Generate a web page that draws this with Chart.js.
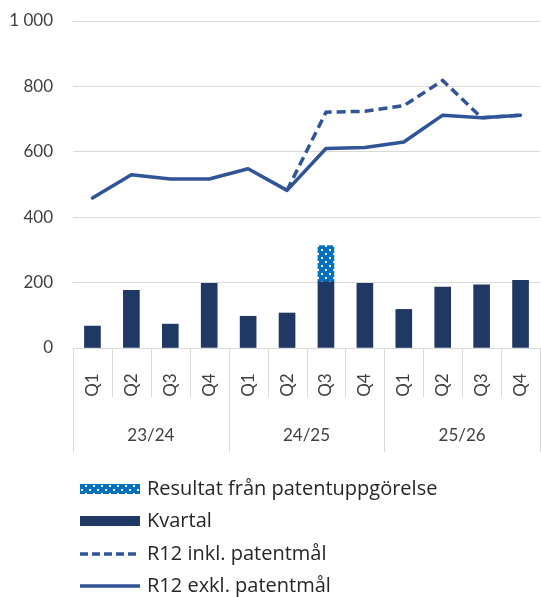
<!DOCTYPE html>
<html lang="sv">
<head>
<meta charset="UTF-8">
<title>Kvartal och R12</title>
<script src="https://cdn.jsdelivr.net/npm/chart.js@4/dist/chart.umd.min.js"></script>
<style>
  html, body { margin: 0; padding: 0; background: #fff; }
  #wrap { width: 541px; height: 597px; }
</style>
</head>
<body>
<div id="wrap"><canvas id="chart" width="541" height="597"></canvas></div>

<script>
// ── Data ────────────────────────────────────────────────
const quarters = ['Q1','Q2','Q3','Q4','Q1','Q2','Q3','Q4','Q1','Q2','Q3','Q4'];
const years    = ['23/24','24/25','25/26'];
const kvartal  = [67, 176, 73, 198, 97, 107, 202, 198, 118, 186, 193, 207];
const patent   = [null, null, null, null, null, null, 111, null, null, null, null, null];
const r12Inkl  = [null, null, null, null, null, 482, 721, 724, 741, 818, 704, 712];
const r12Exkl  = [459, 530, 517, 517, 548, 482, 610, 613, 630, 712, 704, 712];
const yTicks   = [0, 200, 400, 600, 800, 1000];

// ── Styles ──────────────────────────────────────────────
const navy = '#203864';
const lineBlue = '#2F5597';
const patBlue = '#0070C0';
const gridColor = '#D9D9D9';
const textColor = '#404040';
const font = 'Lato, "Open Sans", sans-serif';
const legendFont = '"Open Sans", Lato, sans-serif';

// prickigt mönster för patentstapeln
function dotPattern() {
  const c = document.createElement('canvas');
  c.width = 8; c.height = 8;
  const g = c.getContext('2d');
  g.fillStyle = patBlue;
  g.fillRect(0, 0, 8, 8);
  g.fillStyle = '#ffffff';
  g.fillRect(1, 1, 2, 2);
  g.fillRect(5, 5, 2, 2);
  return g.createPattern(c, 'repeat');
}
const pattern = dotPattern();

const fmt = v => String(v).replace(/\B(?=(\d{3})+(?!\d))/g, ' ');

// ── Kategoriaxel i två nivåer ───────────────────────────
const groupAxis = {
  id: 'groupAxis',
  afterDraw(chart) {
    const { ctx, chartArea: a, scales: { x } } = chart;
    const half = (x.getPixelForValue(1) - x.getPixelForValue(0)) / 2;
    ctx.save();
    ctx.strokeStyle = gridColor;
    ctx.lineWidth = 1;
    for (let i = 0; i <= quarters.length; i++) {
      const px = Math.round(x.getPixelForValue(i) - half) + 0.5;
      const long = i % 4 === 0;
      ctx.beginPath();
      ctx.moveTo(px, a.bottom);
      ctx.lineTo(px, a.bottom + (long ? 104 : 49));
      ctx.stroke();
    }
    ctx.fillStyle = textColor;
    ctx.font = '17px ' + font;
    ctx.textAlign = 'center';
    ctx.textBaseline = 'middle';
    quarters.forEach((q, i) => {
      ctx.save();
      ctx.translate(x.getPixelForValue(i), a.bottom + 37);
      ctx.rotate(-Math.PI / 2);
      ctx.fillText(q, 0, 0);
      ctx.restore();
    });
    years.forEach((y, j) => {
      ctx.fillText(y, x.getPixelForValue(j * 4 + 1.5), a.bottom + 88);
    });
    ctx.restore();
  }
};

// ── Förklaring ──────────────────────────────────────────
const legendList = {
  id: 'legendList',
  afterDraw(chart) {
    const { ctx } = chart;
    const rows = [
      { text: 'Resultat från patentuppgörelse', kind: 'box', fill: pattern, y: 489 },
      { text: 'Kvartal', kind: 'box', fill: navy, y: 521 },
      { text: 'R12 inkl. patentmål', kind: 'line', dash: [8, 4], y: 554 },
      { text: 'R12 exkl. patentmål', kind: 'line', dash: [], y: 586 }
    ];
    ctx.save();
    rows.forEach(r => {
      if (r.kind === 'box') {
        ctx.fillStyle = r.fill;
        ctx.fillRect(80, r.y - 5, 60, 10);
      } else {
        ctx.strokeStyle = lineBlue;
        ctx.lineWidth = 3.5;
        ctx.setLineDash(r.dash);
        ctx.beginPath();
        ctx.moveTo(80, r.y);
        ctx.lineTo(140, r.y);
        ctx.stroke();
        ctx.setLineDash([]);
      }
      ctx.fillStyle = '#262626';
      ctx.font = '20px ' + legendFont;
      ctx.textBaseline = 'middle';
      ctx.fillText(r.text, 147, r.y);
    });
    ctx.restore();
  }
};

new Chart(document.getElementById('chart'), {
  data: {
    labels: quarters,
    datasets: [
      { type: 'line', label: 'R12 exkl. patentmål', data: r12Exkl, stack: 'r2', order: 0,
        borderColor: lineBlue, borderWidth: 3.5, pointRadius: 0, tension: 0,
        borderJoinStyle: 'round', borderCapStyle: 'round' },
      { type: 'line', label: 'R12 inkl. patentmål', data: r12Inkl, stack: 'r1', order: 1,
        borderColor: lineBlue, borderWidth: 3.5, borderDash: [9, 5], pointRadius: 0, tension: 0 },
      { type: 'bar', label: 'Kvartal', data: kvartal, stack: 'q', order: 2,
        backgroundColor: navy, barThickness: 16 },
      { type: 'bar', label: 'Resultat från patentuppgörelse', data: patent, stack: 'q', order: 3,
        backgroundColor: pattern, barThickness: 16 }
    ]
  },
  options: {
    responsive: false,
    animation: false,
    layout: { padding: { top: 21, right: 1, bottom: 249, left: 0 } },
    plugins: { legend: { display: false }, tooltip: { enabled: false } },
    scales: {
      x: { display: false, stacked: true },
      y: {
        stacked: true,
        min: 0, max: 1000,
        afterBuildTicks: s => { s.ticks = yTicks.map(v => ({ value: v })); },
        // fast bredd, och ingen extra luft ovan/under som tick-padding annars ger
        afterFit: s => { s.width = 73; s.paddingTop = 0; s.paddingBottom = 0; },
        border: { display: false },
        grid: { color: gridColor, lineWidth: 1, drawTicks: false },
        ticks: { color: textColor, padding: 20, font: { family: font, size: 17 }, callback: v => fmt(v) }
      }
    }
  },
  plugins: [groupAxis, legendList]
});
</script>
</body>
</html>
